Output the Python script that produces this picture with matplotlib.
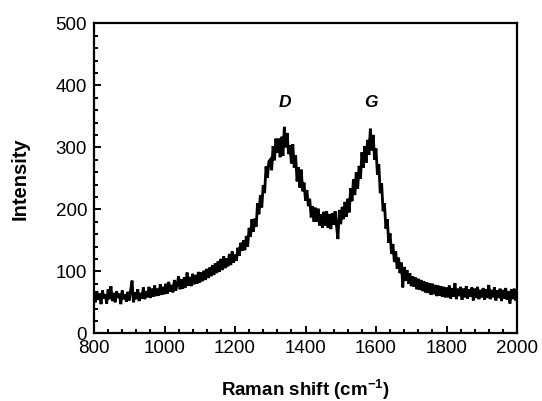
import numpy as np
import matplotlib
matplotlib.use("Agg")
import matplotlib.pyplot as plt
from matplotlib.ticker import MultipleLocator

plt.rcParams['font.family'] = ['Liberation Sans', 'DejaVu Sans']

# Raman shift axis (cm^-1), sampled every 4 cm^-1
raman_shift = np.arange(800, 2001, 4)

# Intensity values (noisy trace)
intensity_800_896 = [60, 50, 68, 54, 64, 47, 69, 56, 63, 48, 71, 55, 76, 52, 65, 50, 68, 57, 64, 47, 69, 55, 63, 51, 67]
intensity_900_996 = [53, 70, 85, 50, 66, 55, 71, 52, 65, 56, 74, 55, 68, 58, 75, 57, 72, 59, 77, 60, 72, 61, 79, 62, 75]
intensity_1000_1096 = [63, 80, 64, 83, 67, 78, 66, 86, 69, 80, 92, 71, 87, 72, 90, 74, 98, 77, 91, 76, 96, 79, 94, 80, 99]
intensity_1100_1196 = [82, 98, 84, 101, 86, 104, 89, 106, 92, 110, 94, 113, 97, 116, 99, 120, 102, 124, 105, 121, 108, 128, 110, 132, 114]
intensity_1200_1296 = [127, 117, 138, 125, 146, 133, 150, 134, 157, 140, 170, 156, 184, 164, 185, 172, 210, 192, 223, 203, 239, 226, 269, 251, 277]
intensity_1300_1396 = [280, 263, 302, 279, 314, 291, 314, 284, 317, 286, 333, 300, 323, 289, 303, 274, 305, 267, 287, 245, 268, 235, 264, 229, 243]
intensity_1400_1496 = [214, 231, 205, 217, 187, 205, 180, 203, 180, 201, 174, 192, 170, 196, 174, 197, 170, 192, 168, 194, 175, 197, 173, 152, 199]
intensity_1500_1596 = [176, 204, 184, 212, 188, 217, 195, 234, 213, 248, 223, 260, 233, 270, 249, 292, 267, 302, 275, 312, 288, 330, 295, 320, 280]
intensity_1600_1696 = [298, 256, 273, 226, 242, 197, 210, 169, 184, 146, 161, 128, 144, 115, 132, 104, 122, 97, 114, 74, 107, 85, 102, 80, 97]
intensity_1700_1796 = [76, 92, 75, 90, 71, 88, 70, 86, 68, 84, 66, 82, 65, 81, 62, 80, 63, 78, 60, 77, 61, 76, 59, 75, 58]
intensity_1800_1896 = [74, 58, 77, 56, 73, 59, 81, 55, 72, 60, 75, 54, 72, 58, 76, 56, 71, 59, 74, 53, 72, 57, 75, 55, 70]
intensity_1900_2000 = [58, 73, 54, 71, 57, 78, 55, 70, 58, 74, 53, 69, 57, 72, 52, 70, 56, 73, 54, 68, 48, 71, 55, 72, 53, 68]

intensity = (intensity_800_896 + intensity_900_996 + intensity_1000_1096 +
             intensity_1100_1196 + intensity_1200_1296 + intensity_1300_1396 +
             intensity_1400_1496 + intensity_1500_1596 + intensity_1600_1696 +
             intensity_1700_1796 + intensity_1800_1896 + intensity_1900_2000)

peak_labels = ["D", "G"]
peak_positions = [1342, 1586]
peak_label_height = 373

fig = plt.figure(figsize=(5.42, 4.01), dpi=100)
ax = fig.add_axes([94/542, (401-333.3)/401, (517-94)/542, (333.3-23.3)/401])

ax.plot(raman_shift, intensity, color='black', lw=2.0, solid_joinstyle='miter')

ax.set_xlim(800, 2000)
ax.set_ylim(0, 500)
ax.xaxis.set_major_locator(MultipleLocator(200))
ax.xaxis.set_minor_locator(MultipleLocator(40))
ax.yaxis.set_major_locator(MultipleLocator(100))
ax.yaxis.set_minor_locator(MultipleLocator(20))

ax.tick_params(which='both', direction='in', top=False, right=False,
               width=1.4, labelsize=13.5, colors='black')
ax.tick_params(which='major', length=5, pad=5)
ax.tick_params(which='minor', length=3)
for sp in ax.spines.values():
    sp.set_linewidth(1.6)

ax.set_xlabel("Raman shift (cm$^{\\mathregular{-1}}$)", fontsize=13.5, fontweight='bold')
ax.set_ylabel("Intensity", fontsize=14.5, fontweight='bold')
ax.xaxis.set_label_coords(0.5, -0.142)
ax.yaxis.set_label_coords(-0.152, 0.5)

for lab, pos in zip(peak_labels, peak_positions):
    ax.text(pos, peak_label_height, lab, fontsize=12.5, fontweight='bold',
            fontstyle='italic', ha='center', va='center')

fig.savefig("out.png", dpi=100)
